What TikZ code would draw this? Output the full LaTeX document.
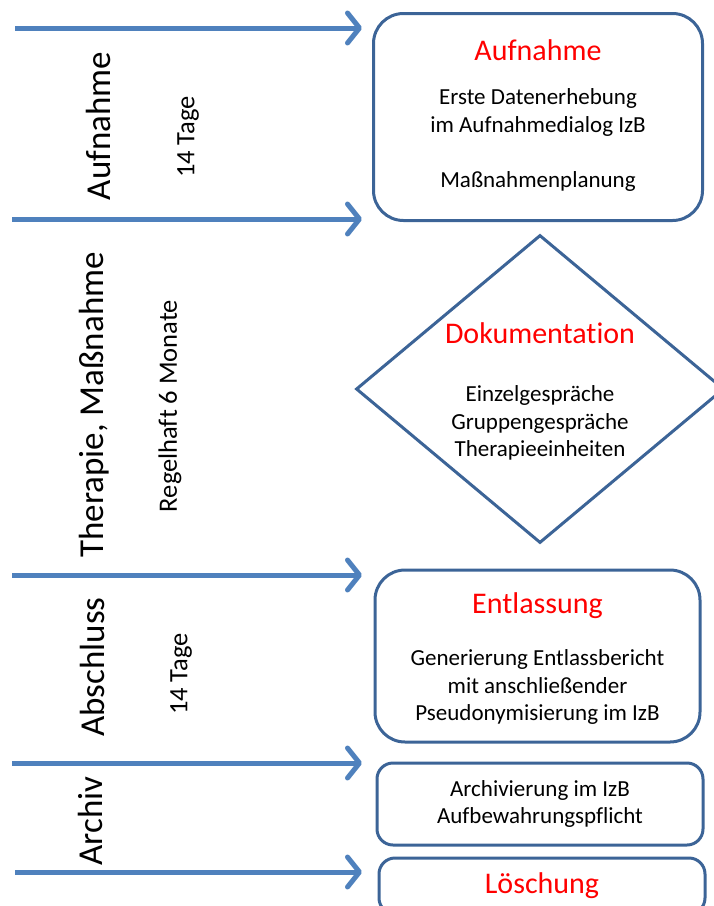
\documentclass[tikz,border=0pt]{standalone}
\usepackage{fontspec}
\setmainfont{Carlito}[Ligatures=NoCommon]
\usetikzlibrary{arrows.meta, positioning, shapes.geometric}
\definecolor{Flow_Arrow}{HTML}{4F81BD}
\definecolor{Flow_Border}{HTML}{3C6497}
\definecolor{Flow_Red}{HTML}{FF0000}
\newcommand{\steptitle}[1]{{\fontsize{30}{36}\selectfont\color{Flow_Red}#1}}

\begin{document}
\begin{tikzpicture}[
    x=1pt, y=1pt,
    stage/.style={draw=Flow_Border, line width=3pt, rounded corners=30pt, align=center, inner sep=0pt, font=\fontsize{23}{27.5}\selectfont},
    flow/.style={draw=Flow_Arrow, line width=5pt, -{Straight Barb[length=12pt, width=30pt, round]}},
    lane/.style={rotate=90, inner sep=0pt, font=\fontsize{35}{40}\selectfont},
    span/.style={rotate=90, inner sep=0pt, font=\fontsize{26.5}{30}\selectfont}
]
\useasboundingbox (0,0) rectangle (714,-906);

% boxes on the right
\node[stage, minimum width=329, minimum height=207] (aufnahme) at (538,-117)
    {\steptitle{Aufnahme}\\[17pt] Erste Datenerhebung\\ im Aufnahmedialog IzB\\[27.5pt] Maßnahmenplanung\rule[-7pt]{0pt}{0pt}};
\node[stage, diamond, rounded corners=0pt, aspect=1.2, minimum width=368, minimum height=308] (doku) at (540,-389)
    {\rule{0pt}{26pt}\steptitle{Dokumentation}\\[31pt] Einzelgespräche\\ Gruppengespräche\\ Therapieeinheiten};
\node[stage, minimum width=325, minimum height=172] (entlassung) at (537.5,-656)
    {\rule{0pt}{25.5pt}\steptitle{Entlassung}\\[25pt] Generierung Entlassbericht\\ mit anschließender\\ Pseudonymisierung im IzB};
\node[stage, rounded corners=16pt, minimum width=326, minimum height=82] (archiv) at (540,-804)
    {Archivierung im IzB\\ Aufbewahrungspflicht};
\node[stage, rounded corners=16pt, minimum width=326, minimum height=56] (loeschung) at (542,-886)
    {\steptitle{Löschung}};

% phase labels
\node[lane] (l_aufnahme) at (98,-126) {Aufnahme};
\node[span] (d_aufnahme) at (188,-137) {14 Tage};
\node[lane] (l_therapie) at (94,-405) {Therapie, Maßnahme};
\node[span] (d_therapie) at (170,-406) {Regelhaft 6 Monate};
\node[lane] (l_abschluss) at (92,-667) {Abschluss};
\node[span] (d_abschluss) at (181,-674) {14 Tage};
\node[lane] (l_archiv) at (90,-821) {Archiv};

% arrows
\coordinate (s1) at (15,-28);   \coordinate (e1) at (362,-28);
\coordinate (s2) at (12,-219);  \coordinate (e2) at (362,-219);
\coordinate (s3) at (12,-575);  \coordinate (e3) at (362,-575);
\coordinate (s4) at (12,-763);  \coordinate (e4) at (362,-763);
\coordinate (s5) at (15,-872);  \coordinate (e5) at (362,-872);
\foreach \i in {1,...,5}
    \draw[flow] (s\i) -- (e\i);
\end{tikzpicture}
\end{document}
